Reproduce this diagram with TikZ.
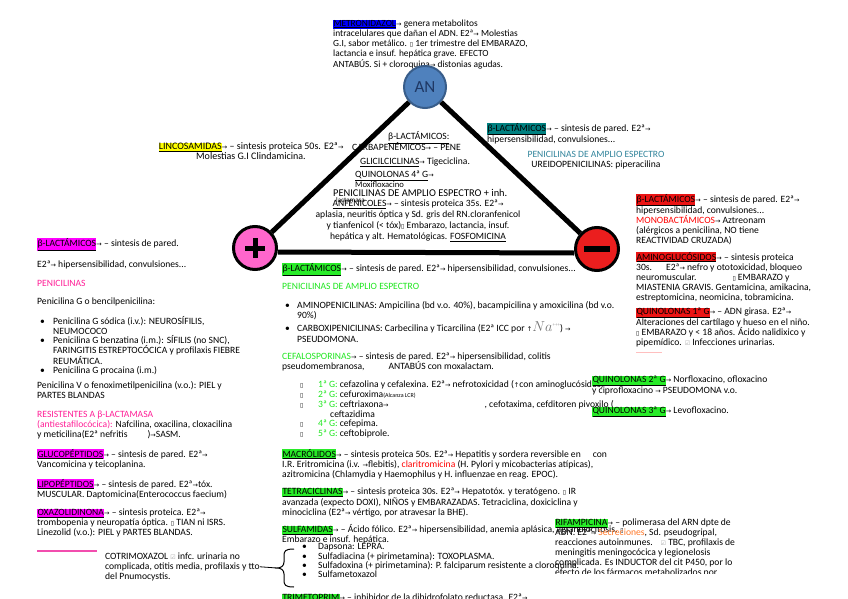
\documentclass[tikz,border=0pt]{standalone}
\usepackage{fontspec}
\setmainfont{Carlito}
\newfontfamily\dvsans{DejaVu Sans}
\usepackage{tikz}

\definecolor{hlblue}{RGB}{0,0,255}
\definecolor{hlyellow}{RGB}{255,255,0}
\definecolor{hlteal}{RGB}{0,128,128}
\definecolor{hlred}{RGB}{235,20,20}
\definecolor{hlmag}{RGB}{255,0,255}
\definecolor{hlgreen}{RGB}{40,235,40}
\definecolor{txpink}{RGB}{255,30,150}
\definecolor{txgreen}{RGB}{30,230,30}
\definecolor{txteal}{RGB}{49,132,155}
\definecolor{txred}{RGB}{255,0,0}
\definecolor{txorange}{RGB}{255,120,40}
\definecolor{anfill}{RGB}{79,129,189}
\definecolor{anline}{RGB}{56,93,138}
\definecolor{annavy}{RGB}{31,56,100}
\definecolor{posfill}{RGB}{255,102,204}
\definecolor{negfill}{RGB}{235,30,30}

\newcommand{\arr}{{\dvsans\fontsize{6.5}{6}\selectfont →}}
\newcommand{\uparr}{{\dvsans\fontsize{6.5}{6}\selectfont ↑}}
\newcommand{\nogl}{{\dvsans\fontsize{6}{6}\selectfont ▯}}
\newcommand{\tick}{{\color{black!35}\dvsans\fontsize{6}{6}\selectfont ☑}}
\newcommand{\hlbox}[2]{{\setlength{\fboxsep}{0.3pt}\colorbox{#1}{\underline{#2}}}}
\newcommand{\itm}[2][12pt]{\makebox[#1][l]{•}#2}

\begin{document}
\begin{tikzpicture}[
    x=1pt, y=-1pt,
    txt/.style={anchor=north west, yshift=7.5pt, inner sep=0pt, align=left,
                font=\fontsize{9.6}{10}\selectfont,
                execute at begin node={\rule{0pt}{9pt}}},
    txtc/.style={txt, anchor=north, align=center},
    hub/.style={circle, draw=black, line width=3pt, minimum size=43pt, inner sep=0pt},
    edge/.style={line width=5pt},
]
  \useasboundingbox (0,0) rectangle (848,599);

  % top
  \node[txt, font=\fontsize{9.4}{10.2}\selectfont] (metro) at (333,27)
    {\hlbox{hlblue}{METRONIDAZOL}\arr{} genera metabolitos\\
     intracelulares que dañan el ADN. E2ª\arr{} Molestias\\
     G.I, sabor metálico. \nogl{} 1er trimestre del EMBARAZO,\\
     lactancia e insuf. hepática grave. EFECTO\\
     ANTABÚS. Si + cloroquina\arr{} distonias agudas.};
  \node[txtc, font=\fontsize{10}{10}\selectfont] (linco) at (251,150)
    {\hlbox{hlyellow}{LINCOSAMIDAS}\arr{} – sintesis proteica 50s. E2ª\arr\\
     Molestias G.I Clindamicina.};

  % inside the triangle
  \node[txt] (betatit) at (388,138) {\underline{β-LACTÁMICOS:}};
  \node[txt] (carba) at (352,149) {CARBAPENÉMICOS\arr{} – PENE};
  \node[txt] (glici) at (360,163) {\underline{GLICILCICLINAS}\arr{} Tigeciclina.};
  \node[txt] (quin4) at (355,176) {\underline{QUINOLONAS 4ª G}\arr};
  \node[txt, font=\fontsize{8.6}{9}\selectfont] (moxi) at (355,186) {Moxifloxacino};
  \node[txt, font=\fontsize{10.4}{11}\selectfont] (penamp) at (333,195)
    {PENICILINAS DE AMPLIO ESPECTRO + inh.};
  \node[txt, font=\fontsize{7}{7}\selectfont] (lacta) at (336,201) {lactamasa};
  \node[txtc, font=\fontsize{9.6}{11}\selectfont] (anfe) at (418,207)
    {\underline{ANFENICOLES}\arr{} – sintesis proteica 35s. E2ª\arr\\
     aplasia, neuritis óptica y Sd. gris del RN.cloranfenicol\\
     y tianfenicol (< tóx)\nogl{} Embarazo, lactancia, insuf.\\
     hepática y alt. Hematológicas. \underline{FOSFOMICINA}};

  % upper right
  \node[txt] (tealbeta) at (487,130)
    {\hlbox{hlteal}{β-LACTÁMICOS}\arr{} – sintesis de pared. E2ª\arr\\
     hipersensibilidad, convulsiones...};
  \node[txtc] (ureido) at (596,159)
    {\textcolor{txteal}{PENICILINAS DE AMPLIO ESPECTRO}\\
     UREIDOPENICILINAS: piperacilina};

  % right column
  \node[txt] (redbeta) at (636,201)
    {\hlbox{hlred}{β-LACTÁMICOS}\arr{} – sintesis de pared. E2ª\arr\\
     hipersensibilidad, convulsiones...\\
     \textcolor{txred}{MONOBACTÁMICOS}\arr{} Aztreonam\\
     (alérgicos a penicilina, NO tiene\\
     REACTIVIDAD CRUZADA)};
  \node[txt] (amino) at (636,259)
    {\hlbox{hlred}{AMINOGLUCÓSIDOS}\arr{} – sintesis proteica\\
     30s.\hspace{14pt}E2ª\arr{} nefro y ototoxicidad, bloqueo\\
     neuromuscular.\hspace{36pt}\nogl{} EMBARAZO y\\
     MIASTENIA GRAVIS. Gentamicina, amikacina,\\
     estreptomicina, neomicina, tobramicina.};
  \node[txt] (quin1) at (636,315)
    {\hlbox{hlred}{QUINOLONAS 1ª G}\arr{} – ADN girasa. E2ª\arr\\
     Alteraciones del cartílago y hueso en el niño.\\
     \nogl{} EMBARAZO y < 18 años. Ácido nalidixico y\\
     pipemídico. \tick{} Infecciones urinarias.};
  \draw[pink, line width=1pt] (636,352) -- (662,352);

  % left column
  \node[txt] (magbeta) at (37,245)
    {\hlbox{hlmag}{β-LACTÁMICOS}\arr{} – sintesis de pared.};
  \node[txt] (hiper) at (37,266) {E2ª\arr{} hipersensibilidad, convulsiones...};
  \node[txt] (penic) at (37,285) {\textcolor{txpink}{PENICILINAS}};
  \node[txt] (peng) at (37,303) {Penicilina G o bencilpenicilina:};
  \node[txt, font=\fontsize{9.6}{9.3}\selectfont] (penglist) at (40,324)
    {\itm[13pt]{Penicilina G sódica (i.v.): NEUROSÍFILIS,}\\
     \hspace*{13pt}NEUMOCOCO\\
     \itm[13pt]{Penicilina G benzatina (i.m.): SÍFILIS (no SNC),}\\
     \hspace*{13pt}FARINGITIS ESTREPTOCÓCICA y profilaxis FIEBRE\\
     \hspace*{13pt}REUMÁTICA.\\
     \itm[13pt]{Penicilina G procaina (i.m.)}};
  \node[txt] (penv) at (37,389)
    {Penicilina V o fenoximetilpenicilina (v.o.): PIEL y\\
     PARTES BLANDAS};
  \node[txt] (resist) at (37,418)
    {\textcolor{txpink}{RESISTENTES A β-LACTAMASA}\\
     \textcolor{txpink}{(antiestafilocócica):} Nafcilina, oxacilina, cloxacilina\\
     y meticilina(E2ª nefritis\hspace{20pt})\arr SASM.};
  \node[txt] (gluco) at (37,456)
    {\hlbox{hlmag}{GLUCOPÉPTIDOS}\arr{} – sintesis de pared. E2ª\arr\\
     Vancomicina y teicoplanina.};
  \node[txt] (lipo) at (37,486)
    {\hlbox{hlmag}{LIPOPÉPTIDOS}\arr{} – sintesis de pared. E2ª\arr tóx.\\
     MUSCULAR. Daptomicina(Enterococcus faecium)};
  \node[txt] (oxazo) at (37,516)
    {\hlbox{hlmag}{OXAZOLIDINONA}\arr{} – sintesis proteica. E2ª\arr\\
     trombopenia y neuropatía óptica. \nogl{} TIAN ni ISRS.\\
     Linezolid (v.o.): PIEL y PARTES BLANDAS.};
  \draw[magenta!70, line width=1.5pt] (37,551) -- (97,551);
  \node[txt] (cotri) at (105,560)
    {COTRIMOXAZOL \tick{} infc. urinaria no\\
     complicada, otitis media, profilaxis y tto\\
     del Pnumocystis.};

  % middle
  \node[txt] (grnbeta) at (282,270)
    {\hlbox{hlgreen}{β-LACTÁMICOS}\arr{} – sintesis de pared. E2ª\arr{} hipersensibilidad, convulsiones...};
  \node[txt] (grnpen) at (282,288) {\textcolor{txgreen}{PENICILINAS DE AMPLIO ESPECTRO}};
  \node[txt, font=\fontsize{9.6}{9.5}\selectfont] (aminop) at (285,309)
    {\itm{AMINOPENICILINAS: Ampicilina (bd v.o. 40\%), bacampicilina y amoxicilina (bd v.o.}\\
     \hspace*{12pt}90\%)};
  \node[txt, font=\fontsize{9.6}{11}\selectfont] (carbox) at (285,329)
    {\itm{CARBOXIPENICILINAS: Carbecilina y Ticarcilina (E2ª ICC por \uparr{\color{black!55}\fontsize{14}{10}\selectfont$Na$}\raisebox{5pt}{\color{black!35}\fontsize{5}{5}\selectfont +++}) \arr}\\
     \hspace*{12pt}PSEUDOMONA.};
  \node[txt] (cefa) at (282,360)
    {\textcolor{txgreen}{CEFALOSPORINAS}\arr{} – sintesis de pared. E2ª\arr{} hipersensibilidad, colitis\\
     pseudomembranosa,\hspace{24pt}ANTABÚS con moxalactam.};
  \node[txt, font=\fontsize{9.6}{9.8}\selectfont] (cefgen) at (300,388)
    {\makebox[18pt][l]{\nogl}\textcolor{txgreen}{1ª G:} cefazolina y cefalexina. E2ª\arr{} nefrotoxicidad (\uparr con aminoglucósidos)\\
     \makebox[18pt][l]{\nogl}\textcolor{txgreen}{2ª G:} cefuroxima{\fontsize{6}{6}\selectfont (Alcanza LCR)}\\
     \makebox[18pt][l]{\nogl}\textcolor{txgreen}{3ª G:} ceftriaxona\arr\hspace{96pt}, cefotaxima, cefditoren pivoxilo (\\
     \hspace*{30pt}ceftazidima\\
     \makebox[18pt][l]{\nogl}\textcolor{txgreen}{4ª G:} cefepima.\\
     \makebox[18pt][l]{\nogl}\textcolor{txgreen}{5ª G:} ceftobiprole.};
  \node[txt] (macro) at (282,456)
    {\hlbox{hlgreen}{MACRÓLIDOS}\arr{} – sintesis proteica 50s. E2ª\arr{} Hepatitis y sordera reversible en\hspace{12pt}con\\
     I.R. Eritromicina (i.v. \arr flebitis), \textcolor{txred}{claritromicina} (H. Pylori y micobacterias atípicas),\\
     azitromicina (Chlamydia y Haemophilus y H. influenzae en reag. EPOC).};
  \node[txt] (tetra) at (282,495)
    {\hlbox{hlgreen}{TETRACICLINAS}\arr{} – sintesis proteica 30s. E2ª\arr{} Hepatotóx. y teratógeno. \nogl{} IR\\
     avanzada (expecto DOXI), NIÑOS y EMBARAZADAS. Tetraciclina, doxiciclina y\\
     minociclina (E2ª\arr{} vértigo, por atravesar la BHE).};
  \node[txt] (sulfa) at (282,532)
    {\hlbox{hlgreen}{SULFAMIDAS}\arr{} – Ácido fólico. E2ª\arr{} hipersensibilidad, anemia aplásica, agranulocitosis. \nogl\\
     Embarazo e insuf. hepática.};
  \node[txt, font=\fontsize{9.6}{9.3}\selectfont] (sulfalist) at (302,551)
    {\itm[16pt]{Dapsona: LEPRA.}\\
     \itm[16pt]{Sulfadiacina (+ pirimetamina): TOXOPLASMA.}\\
     \itm[16pt]{Sulfadoxina (+ pirimetamina): P. falciparum resistente a cloroquina.}\\
     \itm[16pt]{Sulfametoxazol}};
  \node[txt] (trimeto) at (282,599)
    {\hlbox{hlgreen}{TRIMETOPRIM}\arr{} – inhibidor de la dihidrofolato reductasa. E2ª\arr};

  % brace to the sulfa list
  \coordinate (bracetop) at (294,549);
  \coordinate (bracebot) at (294,587);
  \coordinate (bracetip) at (277,568);
  \draw[black, line width=1pt]
    (bracetop) .. controls (285,549) and (284,551) .. (284,556) -- (284,562)
    .. controls (284,566) and (281,568) .. (bracetip)
    .. controls (281,568) and (284,570) .. (284,574) -- (284,580)
    .. controls (284,585) and (285,587) .. (bracebot);
  \draw[black, line width=0.8pt] (cotri.east) -- (bracetip);

  % quinolones
  \node[txt] (quin2) at (592,383)
    {\hlbox{hlgreen}{QUINOLONAS 2ª G}\arr{} Norfloxacino, ofloxacino\\
     y ciprofloxacino \arr{} PSEUDOMONA v.o.};
  \node[txt] (quin3) at (592,412)
    {\hlbox{hlgreen}{QUINOLONAS 3ª G}\arr{} Levofloxacino.};

  % rifampicina
  \begin{scope}
    \clip (540,500) rectangle (848,573);
    \node[txt] (rifam) at (555,526)
      {\hlbox{hlgreen}{RIFAMPICINA}\arr{} – polimerasa del ARN dpte de\\
       ADN. E2ª\arr{} \textcolor{txorange}{Secreciones}, Sd. pseudogripal,\\
       reacciones autoinmunes.\hspace{8pt}\tick{} TBC, profilaxis de\\
       meningitis meningocócica y legionelosis\\
       complicada. Es INDUCTOR del cit P450, por lo\\
       efecto de los fármacos metabolizados por};
  \end{scope}

  % triangle
  \node[hub, fill=anfill, draw=anline, line width=2pt, minimum size=42pt,
        font=\fontsize{17}{17}\selectfont, text=annavy] (an) at (425,87) {AN};
  \node[hub, fill=posfill] (pos) at (255,248) {};
  \node[hub, fill=negfill] (neg) at (597,249) {};
  \draw[edge] (an) -- (pos);
  \draw[edge] (an) -- (neg);
  \draw[edge] ([yshift=-4pt]pos.east) -- ([yshift=-4pt]neg.west);
  \draw[line width=5pt] ([xshift=-10pt]pos.center) -- ([xshift=10pt]pos.center)
                        ([yshift=-10pt]pos.center) -- ([yshift=10pt]pos.center);
  \draw[line width=6pt] ([xshift=-13pt]neg.center) -- ([xshift=13pt]neg.center);
\end{tikzpicture}
\end{document}
